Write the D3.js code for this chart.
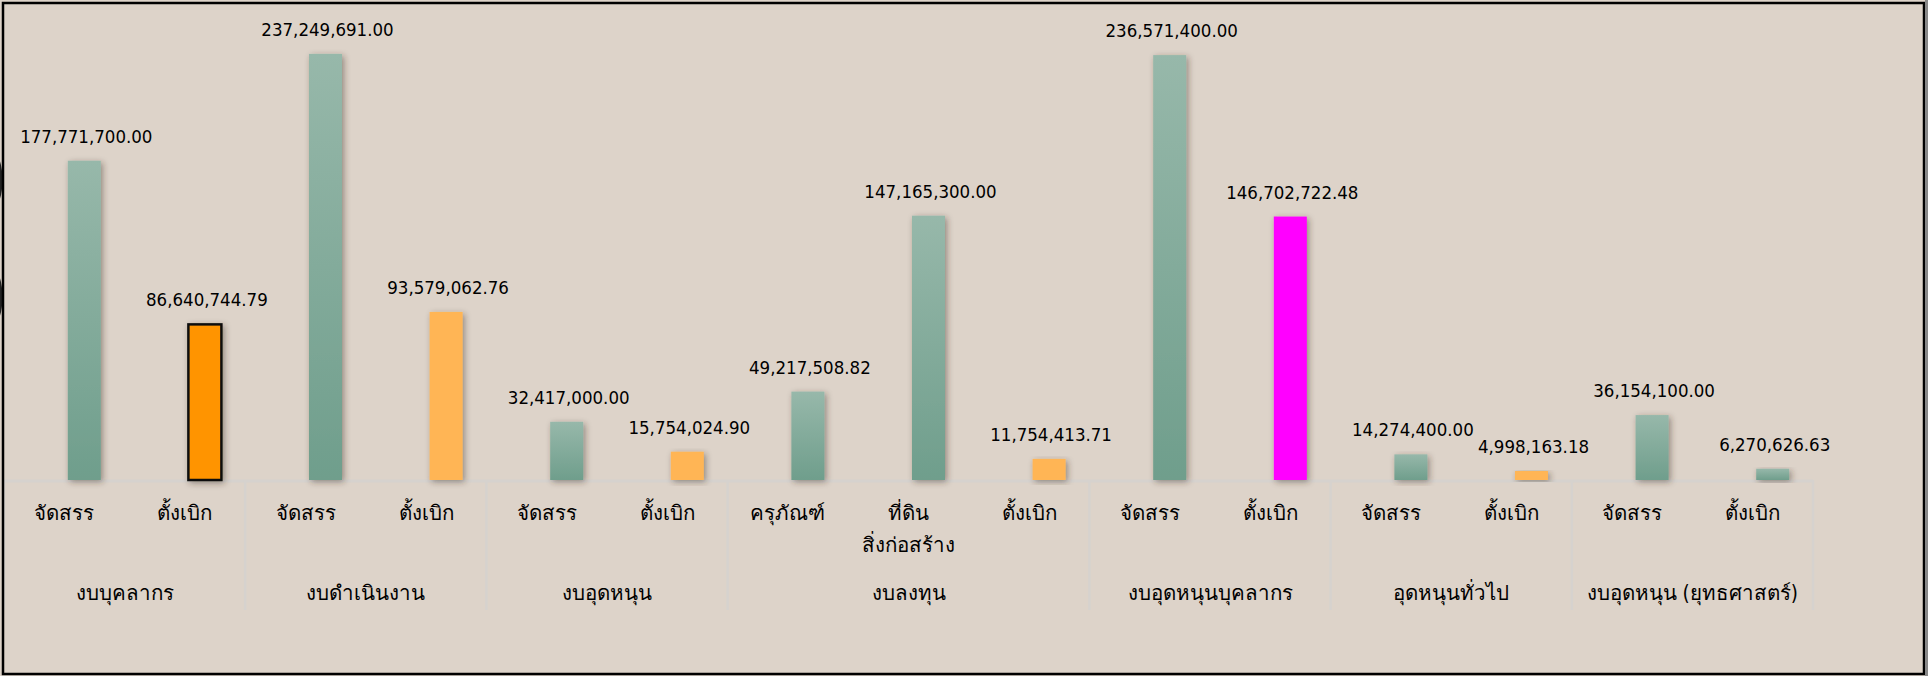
<!DOCTYPE html>
<html>
<head>
<meta charset="utf-8">
<script src="https://cdn.jsdelivr.net/npm/d3@7"></script>
<style>
  html, body { margin: 0; padding: 0; background: #ddd3c9; }
  svg { display: block; }
  text { font-family: "DejaVu Sans Condensed", "DejaVu Sans", "Noto Sans", sans-serif; fill: #000; }
</style>
</head>
<body>
<svg id="chart" width="1928" height="676"></svg>
<script>
// bar categories (second line for wrapped labels)
const categories = [
  ["จัดสรร"], ["ตั้งเบิก"],
  ["จัดสรร"], ["ตั้งเบิก"],
  ["จัดสรร"], ["ตั้งเบิก"],
  ["ครุภัณฑ์"], ["ที่ดิน", "สิ่งก่อสร้าง"], ["ตั้งเบิก"],
  ["จัดสรร"], ["ตั้งเบิก"],
  ["จัดสรร"], ["ตั้งเบิก"],
  ["จัดสรร"], ["ตั้งเบิก"]
];
const groups = ["งบบุคลากร", "งบดำเนินงาน", "งบอุดหนุน", "งบลงทุน", "งบอุดหนุนบุคลากร", "อุดหนุนทั่วไป", "งบอุดหนุน (ยุทธศาสตร์)"];
const groupSizes = [2, 2, 2, 3, 2, 2, 2];
const values = [
  177771700.00, 86640744.79,
  237249691.00, 93579062.76,
  32417000.00, 15754024.90,
  49217508.82, 147165300.00, 11754413.71,
  236571400.00, 146702722.48,
  14274400.00, 4998163.18,
  36154100.00, 6270626.63
];
// fill kind of each bar
const kinds = ["teal", "dark", "teal", "orange", "teal", "orange", "teal", "teal", "orange",
               "teal", "magenta", "teal", "orange", "teal", "teal"];

const svg = d3.select("#chart");
const W = 1928, H = 676;
const baseY = 480;

const defs = svg.append("defs");
const grad = defs.append("linearGradient").attr("id", "teal").attr("x1", 0).attr("y1", 0).attr("x2", 0).attr("y2", 1);
grad.append("stop").attr("offset", "0%").attr("stop-color", "#97b8aa");
grad.append("stop").attr("offset", "100%").attr("stop-color", "#6f9e8c");
const shadow = defs.append("filter").attr("id", "shadow").attr("x", "-50%").attr("y", "-10%").attr("width", "200%").attr("height", "130%");
shadow.append("feDropShadow").attr("dx", 2).attr("dy", 2).attr("stdDeviation", 3)
  .attr("flood-color", "#3a2a20").attr("flood-opacity", 0.45);

const fills = { teal: "url(#teal)", orange: "#ffb554", dark: "#ff9400", magenta: "#ff00ff" };

svg.append("rect").attr("width", W).attr("height", H).attr("fill", "#ddd3c9");

const idx = d3.range(values.length);
const x = d3.scaleBand().domain(idx).range([4, 1813]).padding(0);
// two series slots per category; only the second one carries a value
const xs = d3.scaleBand().domain(["s1", "s2"]).range([0, x.bandwidth()])
  .paddingInner(0.175).paddingOuter(0.595);
const y = d3.scaleLinear().domain([0, 250e6]).range([baseY, 31]);

// group boundaries
let acc = 0;
const groupSpans = groupSizes.map((n, i) => {
  const s = { name: groups[i], start: acc, end: acc + n };
  acc += n;
  return s;
});

// axis line
svg.append("line").attr("x1", x.range()[0]).attr("x2", x.range()[1])
  .attr("y1", baseY + 1).attr("y2", baseY + 1)
  .attr("stroke", "#d6d2ce").attr("stroke-width", 3);

// group separators
const bounds = [0].concat(groupSpans.map(g => g.end));
svg.selectAll("line.sep").data(bounds).join("line").attr("class", "sep")
  .attr("x1", d => d === values.length ? x.range()[1] : x(d))
  .attr("x2", d => d === values.length ? x.range()[1] : x(d))
  .attr("y1", baseY).attr("y2", 610)
  .attr("stroke", "#d6d2ce").attr("stroke-width", 2.5);

// bars
svg.selectAll("rect.bar").data(idx).join("rect").attr("class", "bar")
  .attr("x", i => x(i) + xs("s2"))
  .attr("y", i => y(values[i]))
  .attr("width", xs.bandwidth())
  .attr("height", i => baseY - y(values[i]))
  .attr("fill", i => fills[kinds[i]])
  .attr("stroke", i => kinds[i] === "dark" ? "#111" : "none")
  .attr("stroke-width", 2.5)
  .attr("filter", "url(#shadow)");

// value labels
const fmt = d3.format(",.2f");
svg.selectAll("text.val").data(idx).join("text").attr("class", "val")
  .attr("x", i => x(i) + xs("s2") + xs.bandwidth() / 2 + 2)
  .attr("y", i => y(values[i]) - 18)
  .attr("text-anchor", "middle")
  .attr("font-size", 18.5)
  .text(i => fmt(values[i]));

// category labels
const cat = svg.selectAll("text.cat").data(idx).join("text").attr("class", "cat")
  .attr("text-anchor", "middle")
  .attr("font-size", 20.5)
  .attr("y", 520);
cat.selectAll("tspan").data(i => categories[i].map(t => ({ t, i }))).join("tspan")
  .attr("x", d => x(d.i) + x.bandwidth() / 2)
  .attr("dy", (d, k) => k === 0 ? 0 : 32)
  .text(d => d.t);

// group labels
svg.selectAll("text.grp").data(groupSpans).join("text").attr("class", "grp")
  .attr("x", g => (x(g.start) + (g.end === values.length ? x.range()[1] : x(g.end))) / 2)
  .attr("y", 600)
  .attr("text-anchor", "middle")
  .attr("font-size", 20.5)
  .text(g => g.name);

// stray shapes poking in at the left edge
svg.selectAll("ellipse.edge").data([180, 297]).join("ellipse").attr("class", "edge")
  .attr("cx", -9).attr("cy", d => d).attr("rx", 10).attr("ry", 28)
  .attr("fill", "none").attr("stroke", "#222").attr("stroke-width", 3);

// frame
svg.append("rect").attr("x", 3).attr("y", 3).attr("width", 1921).attr("height", 671)
  .attr("fill", "none").attr("stroke", "#000").attr("stroke-width", 2.5);
svg.append("rect").attr("x", 1925).attr("y", 0).attr("width", 3).attr("height", H).attr("fill", "#888");
</script>
</body>
</html>
